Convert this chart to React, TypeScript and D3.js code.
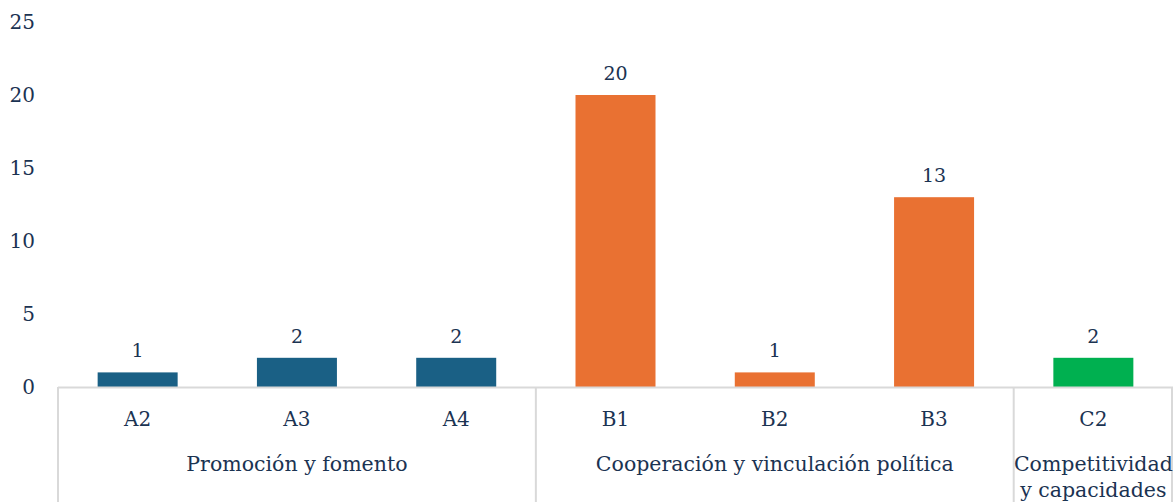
import React from "react";
import * as d3 from "d3";

const categories = ["A2", "A3", "A4", "B1", "B2", "B3", "C2"];
const values = [1, 2, 2, 20, 1, 13, 2];
const groupOf = ["A", "A", "A", "B", "B", "B", "C"];
const groups = [
  { key: "A", lines: ["Promoción y fomento"], color: "#1a6085" },
  { key: "B", lines: ["Cooperación y vinculación política"], color: "#e97132" },
  { key: "C", lines: ["Competitividad", "y capacidades"], color: "#00b050" },
];
const yTicks = [0, 5, 10, 15, 20, 25];

const W = 1173;
const H = 502;
const FONT = "'DejaVu Serif', serif";
const TEXT = "#1b3352";

export default function App() {
  const x = d3.scaleBand<string>().domain(categories).range([58, 1173]).paddingInner(0).paddingOuter(0);
  const y = d3.scaleLinear().domain([0, 20]).range([387, 95]);
  const slot = x.bandwidth();
  const bw = 80;
  const groupRanges = groups.map((g) => {
    const idx = groupOf.map((k, i) => (k === g.key ? i : -1)).filter((i) => i >= 0);
    const x0 = x(categories[idx[0]])!;
    const x1 = x(categories[idx[idx.length - 1]])! + slot;
    return { ...g, x0, x1 };
  });
  const separators = [0, 3, 6, 7].map((k) => Math.min(58 + k * slot, 1172));
  return (
    <svg width={W} height={H} style={{ position: "absolute", left: 0, top: 0 }} fontFamily={FONT}>
      {yTicks.map((t) => (
        <text key={t} x={35} y={y(t)} dy="0.35em" textAnchor="end" fontSize={20} fill={TEXT}>
          {t}
        </text>
      ))}
      {categories.map((c, i) => {
        const g = groups.find((gg) => gg.key === groupOf[i])!;
        const cx = x(c)! + slot / 2;
        return (
          <g key={c}>
            <rect x={cx - bw / 2} y={y(values[i])} width={bw} height={y(0) - y(values[i])} fill={g.color} />
            <text x={cx} y={y(values[i]) - 15} textAnchor="middle" fontSize={19} fill={TEXT}>
              {values[i]}
            </text>
            <text x={cx} y={426} textAnchor="middle" fontSize={20} fill={TEXT}>
              {c}
            </text>
          </g>
        );
      })}
      <line x1={58} x2={1173} y1={387.5} y2={387.5} stroke="#d9d9d9" strokeWidth={2} />
      {separators.map((xx, k) => (
        <line key={k} x1={xx} x2={xx} y1={387} y2={502} stroke="#d9d9d9" strokeWidth={2} />
      ))}
      {groupRanges.map((g) => (
        <text key={g.key} textAnchor="middle" fontSize={20.5} fill={TEXT}>
          {g.lines.map((l, j) => (
            <tspan key={j} x={(g.x0 + g.x1) / 2} y={471 + j * 26}>
              {l}
            </tspan>
          ))}
        </text>
      ))}
    </svg>
  );
}
